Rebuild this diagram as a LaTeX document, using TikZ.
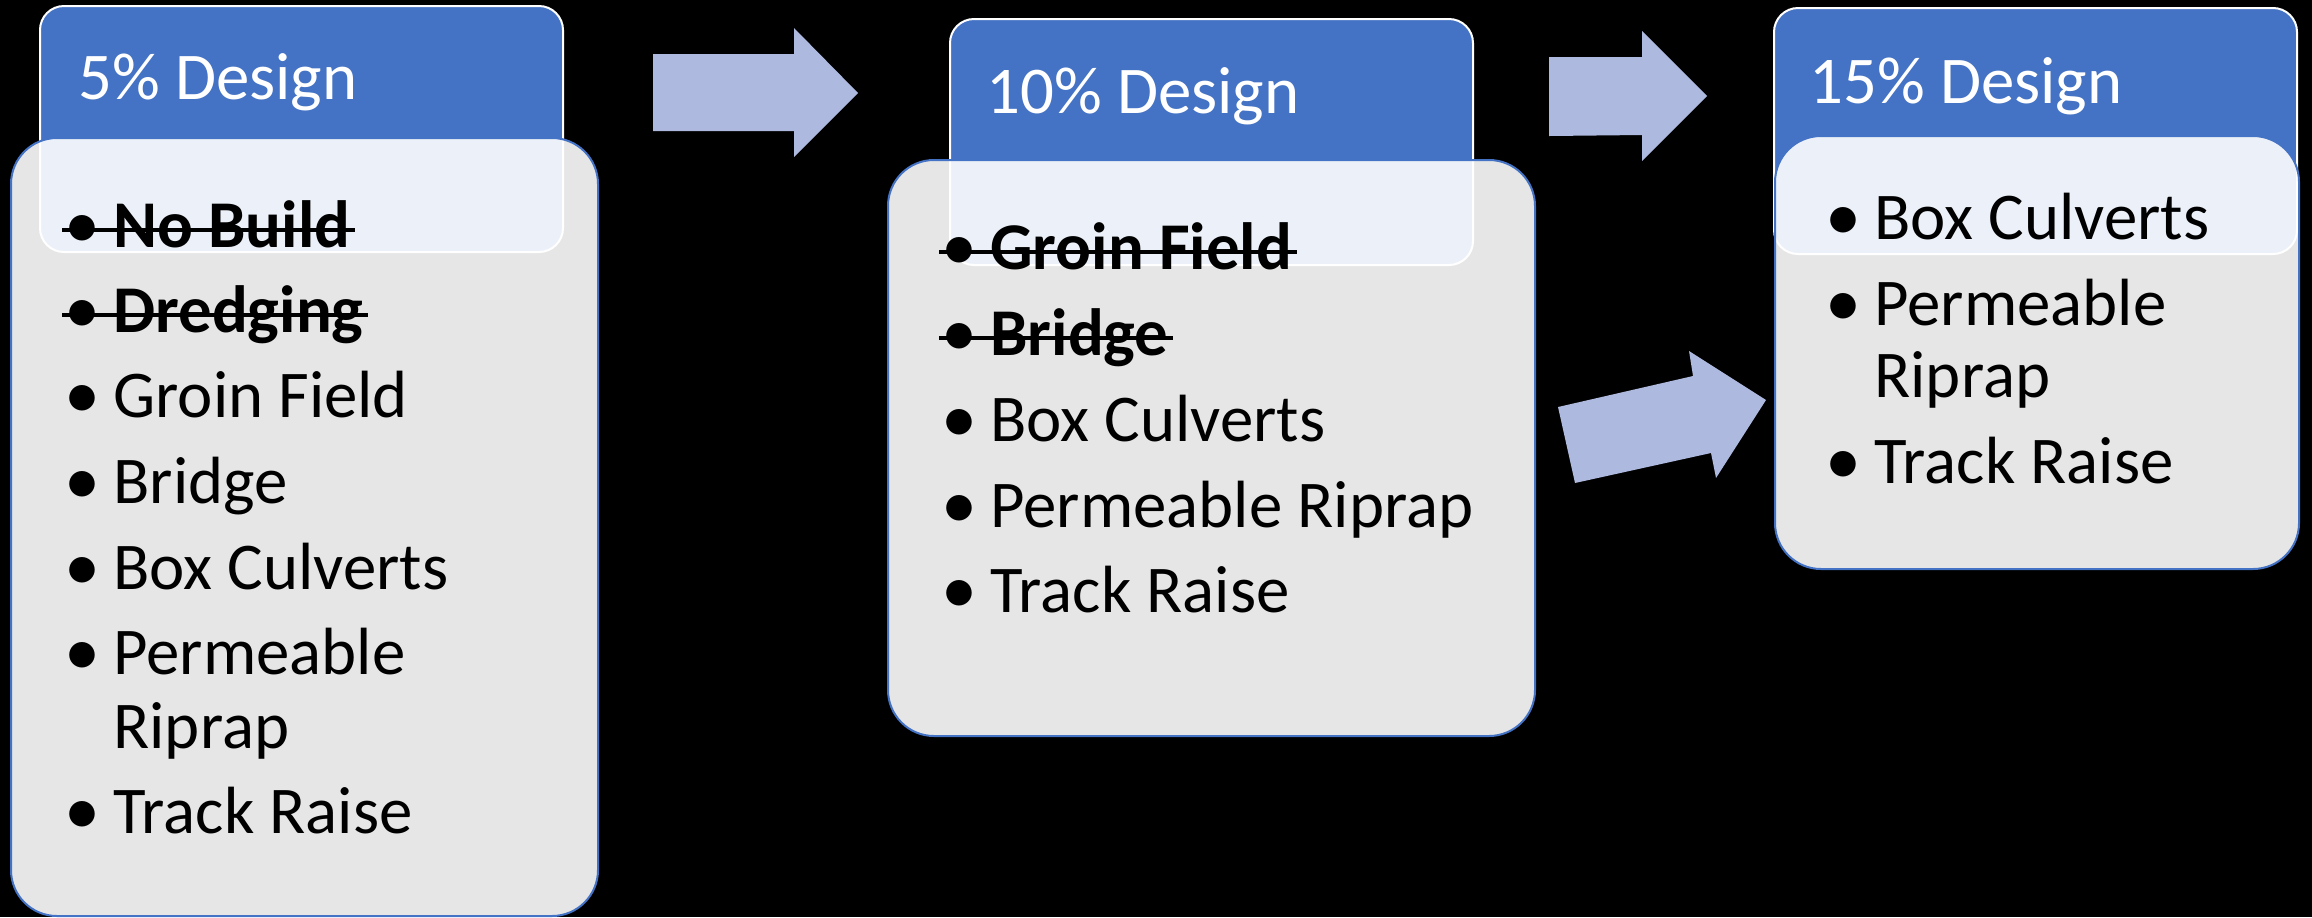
\documentclass[tikz,border=0pt]{standalone}
\usepackage{fontspec}
\usepackage{graphicx}
\setmainfont{Carlito}
\definecolor{hdrblue}{HTML}{4472C4}
\definecolor{arrowfill}{HTML}{ADB9DE}
\definecolor{bodyline}{HTML}{4472C4}
\begin{document}
\begin{tikzpicture}[x=0.5pt,y=-0.5pt,
  hdr/.style={rectangle, fill=hdrblue, draw=white, line width=1pt, rounded corners=12pt, inner sep=0pt, outer sep=0pt},
  bodybox/.style={rectangle, fill=white, fill opacity=0.9, draw=bodyline, line width=1pt, rounded corners=23pt, inner sep=0pt, outer sep=0pt},
  htext/.style={anchor=base west, inner sep=0pt, text=white, font=\fontsize{33.4pt}{40pt}\selectfont},
  item/.style={anchor=base west, inner sep=0pt, text=black, font=\fontsize{33.4pt}{40pt}\selectfont},
  gone/.style={item, font=\fontsize{33.4pt}{40pt}\selectfont\bfseries},
  strike/.style={line width=1.65pt, draw=black},
  bigarrow/.style={fill=arrowfill, draw=none}
]
\newcommand{\bul}{\makebox[22.5pt][l]{\hspace*{-2pt}\raisebox{-0.8pt}{\scalebox{1.08}{\mdseries •}}}}
\useasboundingbox (0,0) rectangle (2312,917);
\fill[black] (0,0) rectangle (2312,917);

% block arrows
\fill[bigarrow] (653,54) -- (794,54) -- (794,28) -- (858,93) -- (794,157) -- (794,131) -- (653,131) -- cycle;
\fill[bigarrow] (1549,57) -- (1642,57) -- (1642,31) -- (1707,96) -- (1642,161) -- (1642,135) -- (1549,136) -- cycle;
\fill[bigarrow] (1558,407) -- (1693,376) -- (1689,351) -- (1766,400) -- (1716,478) -- (1711,453) -- (1575,483) -- cycle;

% boxes
\node[hdr, minimum width=261.5pt, minimum height=123pt] (h1) at (301.5,129) {};
\node[bodybox, minimum width=293.5pt, minimum height=389pt] (b1) at (304.5,527) {};
\node[hdr, minimum width=261.5pt, minimum height=123pt] (h2) at (1211.5,142) {};
\node[bodybox, minimum width=323.5pt, minimum height=288pt] (b2) at (1211.5,448) {};
\node[hdr, minimum width=261.5pt, minimum height=123pt] (h3) at (2035.5,131) {};
\node[bodybox, minimum width=262pt, minimum height=216.5pt] (b3) at (2037,352.5) {};

% headers
\node[htext] (t1) at (78,99) {5\% Design};
\node[htext] (t2) at (986,113) {10\% Design};
\node[htext] (t3) at (1809,103) {15\% Design};

% box 1 items
\node[gone] (a1) at (68,247) {\bul No Build};
\node[gone] (a2) at (68,332) {\bul Dredging};
\node[item] (a3) at (68,417) {\bul Groin Field};
\node[item] (a4) at (68,503) {\bul Bridge};
\node[item] (a5) at (68,589) {\bul Box Culverts};
\node[item] (a6) at (68,674) {\bul Permeable};
\node[item] (a6b) at (113,748) {Riprap};
\node[item] (a7) at (68,833) {\bul Track Raise};
\draw[strike] ([xshift=-3pt,yshift=8.5pt]a1.base west) -- ([xshift=2pt,yshift=8.5pt]a1.base east);
\draw[strike] ([xshift=-3pt,yshift=8.5pt]a2.base west) -- ([xshift=2pt,yshift=8.5pt]a2.base east);

% box 2 items
\node[gone] (c1) at (945,269) {\bul Groin Field};
\node[gone] (c2) at (945,355) {\bul Bridge};
\node[item] (c3) at (945,441) {\bul Box Culverts};
\node[item] (c4) at (945,527) {\bul Permeable Riprap};
\node[item] (c5) at (945,612) {\bul Track Raise};
\draw[strike] ([xshift=-3pt,yshift=8.5pt]c1.base west) -- ([xshift=2pt,yshift=8.5pt]c1.base east);
\draw[strike] ([xshift=-3pt,yshift=8.5pt]c2.base west) -- ([xshift=2pt,yshift=8.5pt]c2.base east);

% box 3 items
\node[item] (d1) at (1829,239) {\bul Box Culverts};
\node[item] (d2) at (1829,325) {\bul Permeable};
\node[item] (d2b) at (1874,397) {Riprap};
\node[item] (d3) at (1829,483) {\bul Track Raise};
\end{tikzpicture}
\end{document}
